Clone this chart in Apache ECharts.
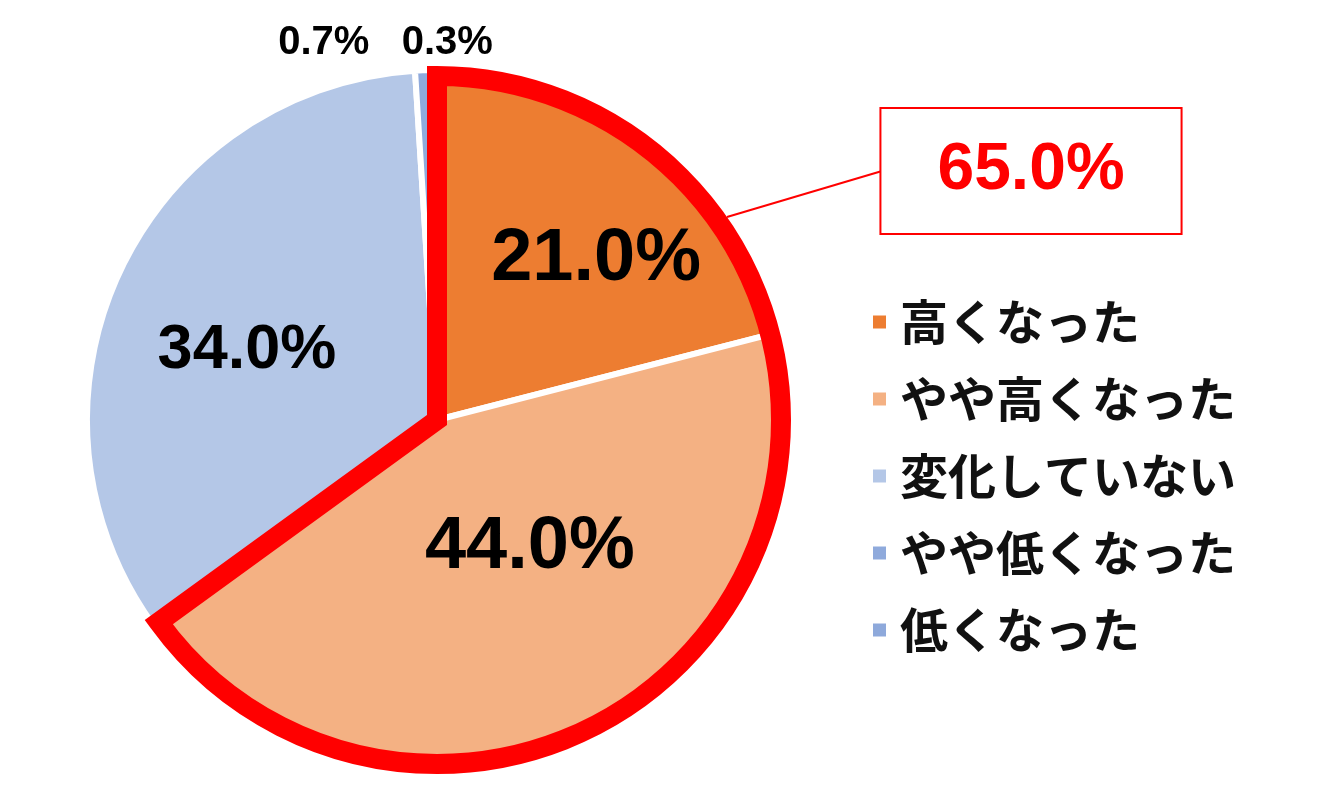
<!DOCTYPE html>
<html>
<head>
<meta charset="utf-8">
<title>円グラフ</title>
<script src="https://cdn.jsdelivr.net/npm/echarts@6/dist/echarts.min.js"></script>
<style>
  html, body { margin: 0; padding: 0; background: #fff; }
  #main { width: 1340px; height: 810px; }
</style>
</head>
<body>
<div id="main"></div>
<script>
// データ
var categories = ['高くなった', 'やや高くなった', '変化していない', 'やや低くなった', '低くなった'];
var values = [21.0, 44.0, 34.0, 0.7, 0.3];
var colors = ['#ED7D31', '#F4B183', '#B4C7E7', '#8FAADC', '#8EA9DB'];

// 「高くなった」+「やや高くなった」の合計
var highTotal = values[0] + values[1];
var restTotal = values[2] + values[3] + values[4];

// 見た目の設定
var cx = 437, cy = 420, R = 350;
var labelSizes = [74, 74, 63, 40, 40];
var labelOffsets = [[50, -20], [17, -33], [-29, 6], [-106, -199], [12, -199]];
var plain = "'Liberation Sans', Arial, sans-serif";

var myChart = echarts.init(document.getElementById('main'));

var pieData = categories.map(function (name, i) {
    return {
        name: name,
        value: values[i],
        itemStyle: { color: colors[i] },
        label: { fontSize: labelSizes[i] }
    };
});

var option = {
    animation: false,
    backgroundColor: '#fff',
    legend: {
        data: categories,
        orient: 'vertical',
        left: 866,
        top: 293,
        icon: 'rect',
        itemWidth: 15,
        itemHeight: 15,
        itemGap: 29,
        selectedMode: false,
        textStyle: {
            fontFamily: "'Noto Sans CJK JP', sans-serif",
            fontWeight: 'bold',
            fontSize: 48,
            lineHeight: 48,
            color: '#111',
            padding: [0, 0, 0, 8]
        }
    },
    series: [
        {
            name: '回答',
            type: 'pie',
            center: [cx, cy],
            radius: R,
            startAngle: 90,
            clockwise: true,
            silent: true,
            itemStyle: { borderColor: '#fff', borderWidth: 6 },
            label: {
                show: true,
                position: 'inside',
                color: '#000',
                fontFamily: plain,
                fontWeight: 'bold',
                formatter: function (p) { return p.value.toFixed(1) + '%'; }
            },
            labelLine: { show: false },
            labelLayout: function (p) {
                var o = labelOffsets[p.dataIndex];
                return { dx: o[0], dy: o[1] };
            },
            data: pieData
        },
        {
            // 65% の赤い枠
            name: '合計',
            type: 'pie',
            center: [cx, cy],
            radius: 344,
            startAngle: 90,
            clockwise: true,
            silent: true,
            z: 5,
            label: {
                show: true,
                position: 'outside',
                color: '#FF0000',
                fontFamily: plain,
                fontWeight: 'bold',
                fontSize: 66,
                lineHeight: 72,
                backgroundColor: '#fff',
                borderColor: '#FF0000',
                borderWidth: 2,
                padding: [26, 56],
                formatter: function (p) { return p.value.toFixed(1) + '%'; }
            },
            labelLine: { show: true, lineStyle: { color: '#FF0000', width: 2 } },
            labelLayout: function (p) {
                if (p.dataIndex !== 0) return {};
                var a = 55 * Math.PI / 180;
                var sx = cx + 354 * Math.sin(a), sy = cy - 354 * Math.cos(a);
                return {
                    x: 1031, y: 171, align: 'center', verticalAlign: 'middle',
                    labelLinePoints: [[sx, sy], [882, 171], [882, 171]]
                };
            },
            data: [
                {
                    name: '高+やや高',
                    value: highTotal,
                    itemStyle: {
                        color: 'rgba(0,0,0,0)',
                        borderColor: '#FF0000',
                        borderWidth: 20,
                        borderJoin: 'miter',
                        borderMiterLimit: 20
                    }
                },
                {
                    name: 'その他',
                    value: restTotal,
                    itemStyle: { color: 'rgba(0,0,0,0)', borderWidth: 0 },
                    label: { show: false },
                    labelLine: { show: false }
                }
            ]
        }
    ]
};

myChart.setOption(option);
</script>
</body>
</html>
